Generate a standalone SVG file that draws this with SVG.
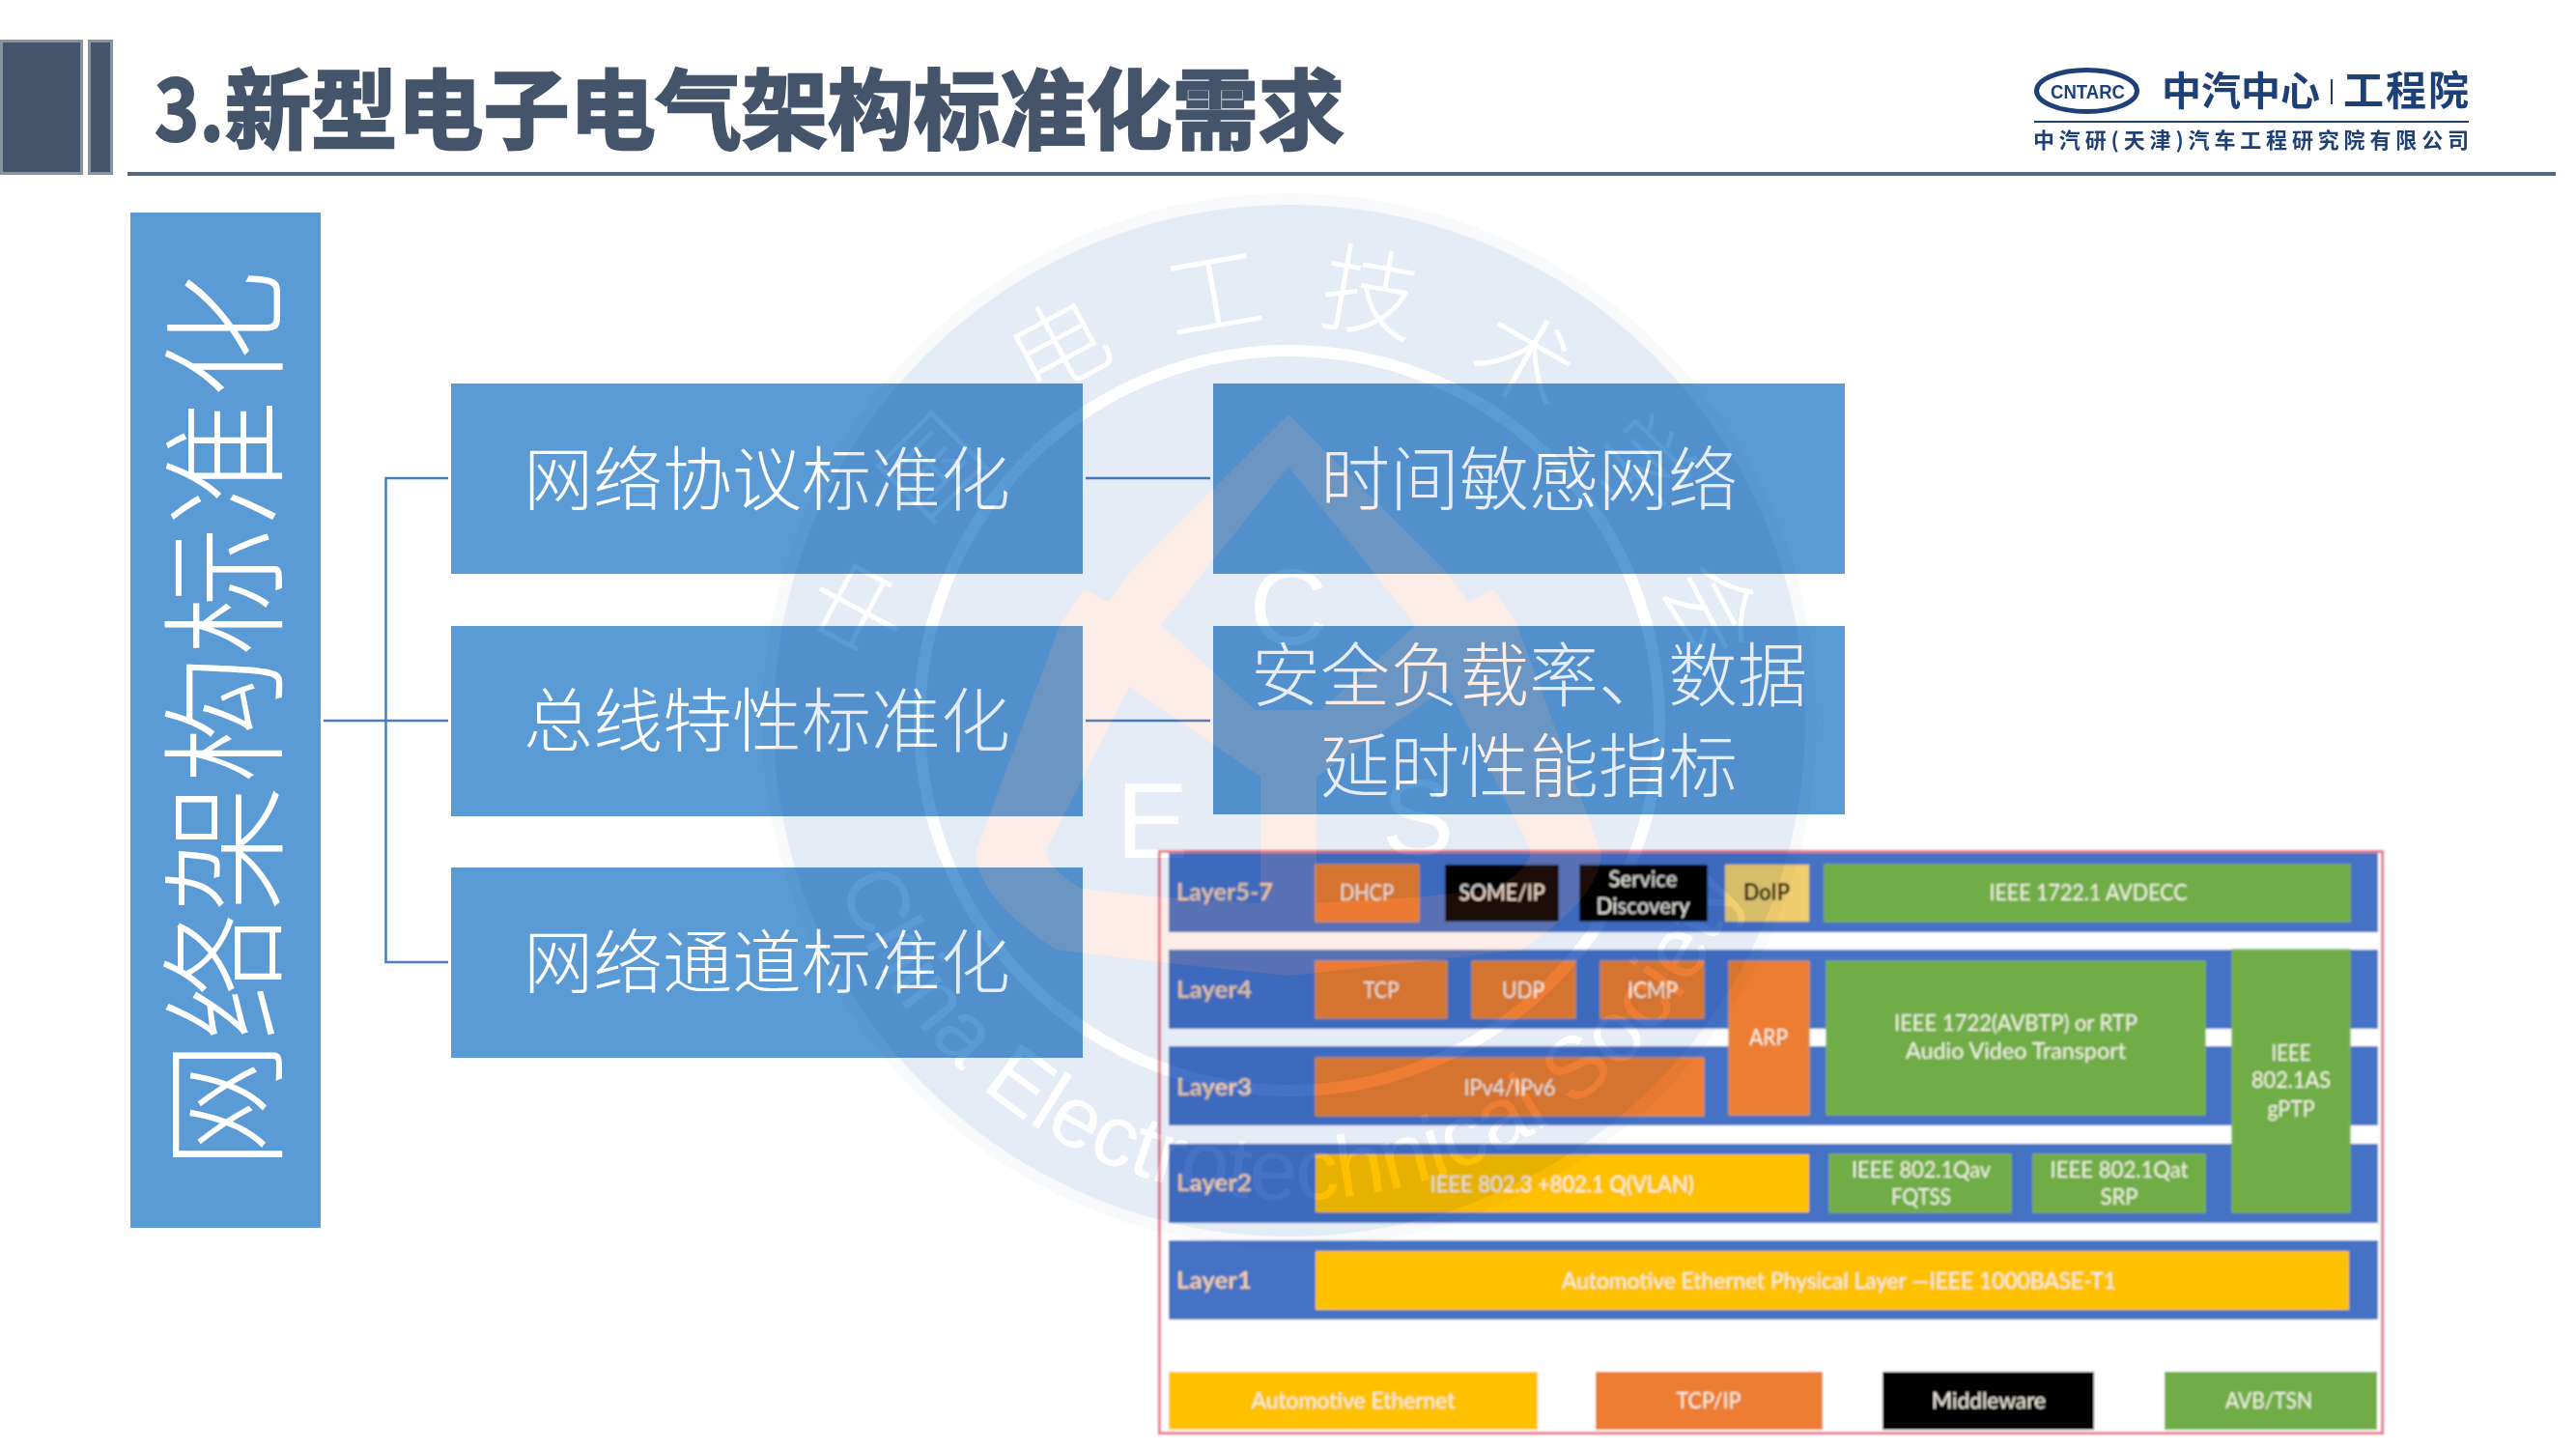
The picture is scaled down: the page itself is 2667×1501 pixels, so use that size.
<svg xmlns="http://www.w3.org/2000/svg" width="2667" height="1501" viewBox="0 0 2667 1501">
<style>
text{font-family:"Noto Sans CJK SC","Noto Sans",sans-serif}
.box{fill:#5B9BD5}
.bt{fill:#fff;font-size:72px;text-anchor:middle;font-weight:300}
.conn{stroke:#4A7EBB;fill:none;stroke-width:2.5}
.logo{fill:#1D4077;font-weight:700}
.d text{font-family:Lato,"Open Sans",sans-serif;font-size:24px;text-anchor:middle;fill:#F6F3E6}
.d .lay{text-anchor:start;fill:#F3CDA8;font-weight:700}
.row{fill:#4472C4}.o{fill:#ED7D31;stroke:#D6915F;stroke-width:1.5}.g{fill:#70AD47;stroke:#7FB05F;stroke-width:1.5}.y{fill:#FFC000}.k{fill:#000}
.wm{mix-blend-mode:multiply}
.wm text{fill:#fff}
.wm .cn{font-size:100px;text-anchor:middle;font-weight:300}
.wm .la{font-family:"Liberation Sans",Arial,sans-serif;font-size:112px;text-anchor:middle}
</style>
<defs>
<filter id="soft" x="-2%" y="-2%" width="104%" height="104%"><feGaussianBlur stdDeviation="0.8"/></filter>
<path id="arc" d="M839 746A496 496 0 1 0 1831 746"/>
<path id="house" fill-rule="evenodd" d="M1334 429L1172 590L1148 623L1122 610L1098 645L1010 883Q1012 930 1093 983L1193 995L1334 1010L1475 995L1575 983Q1656 930 1658 883L1570 645L1546 610L1520 623L1496 590ZM1334 483L1202 647L1300 735H1368L1466 647ZM1169 711L1083 880Q1085 900 1120 920L1193 928L1305 935V804ZM1499 711L1585 880Q1583 900 1548 920L1475 928L1363 935V804Z"/>
</defs>
<rect width="2667" height="1501" fill="#fff"/>
<g id="header">
<rect x="1.500" y="42.500" width="83" height="137" fill="#44546A" stroke="#84959F" stroke-width="3"/>
<rect x="92.500" y="42.500" width="23" height="137" fill="#44546A" stroke="#84959F" stroke-width="3"/>
<rect x="132" y="178" width="2514" height="4" fill="#546A7B"/>
<text x="160" y="146" font-size="90" font-weight="700" fill="#44546A" stroke="#44546A" stroke-width="2" textLength="72" lengthAdjust="spacingAndGlyphs">3.</text>
<text x="233" y="147" font-size="90" font-weight="700" fill="#44546A" stroke="#44546A" stroke-width="2.500" textLength="1159" lengthAdjust="spacingAndGlyphs">新型电子电气架构标准化需求</text>
</g>
<g id="logo">
<ellipse cx="2160.500" cy="94" rx="52" ry="21.500" fill="none" stroke="#1D4077" stroke-width="5"/>
<text x="2123" y="102" class="logo" style="font-family:'Liberation Sans',sans-serif" font-size="21" textLength="77" lengthAdjust="spacingAndGlyphs">CNTARC</text>
<text x="2238" y="109" class="logo" font-size="41" textLength="164" lengthAdjust="spacingAndGlyphs">中汽中心</text>
<rect x="2413" y="82" width="2" height="26" fill="#1D4077"/>
<text x="2426" y="109" class="logo" font-size="42" textLength="130" lengthAdjust="spacing">工程院</text>
<rect x="2106" y="125" width="450" height="2" fill="#1D4077"/>
<text x="2105" y="153" class="logo" font-size="22" textLength="451" lengthAdjust="spacing">中汽研(天津)汽车工程研究院有限公司</text>
</g>
<g id="connectors">
<path class="conn" d="M335 746H464"/>
<path class="conn" stroke-width="3.500" d="M464 495H399.500V996H464"/>
<path class="conn" d="M1124 495H1253M1124 746H1253"/>
</g>
<g id="root">
<rect class="box" x="135" y="220" width="197" height="1051"/>
<text transform="translate(282 745) rotate(-90)" fill="#fff" font-size="133" text-anchor="middle" font-weight="300">网络架构标准化</text>
</g>
<g id="n1"><rect class="box" x="467" y="397" width="654" height="197"/><text class="bt" x="794" y="522">网络协议标准化</text></g>
<g id="n2"><rect class="box" x="467" y="648" width="654" height="197"/><text class="bt" x="794" y="772">总线特性标准化</text></g>
<g id="n3"><rect class="box" x="467" y="898" width="654" height="197"/><text class="bt" x="794" y="1022">网络通道标准化</text></g>
<g id="n4"><rect class="box" x="1256" y="397" width="654" height="197"/><text class="bt" x="1583" y="522">时间敏感网络</text></g>
<g id="n5"><rect class="box" x="1256" y="648" width="654" height="195"/><text class="bt" x="1583" y="725">安全负载率、数据</text><text class="bt" x="1583" y="819">延时性能指标</text></g>
<g id="stack" class="d" filter="url(#soft)">
<rect x="1200.500" y="881.500" width="1266" height="602" fill="#fff" stroke="#E47F8C" stroke-width="3"/>
<rect class="row" x="1210" y="883" width="1252" height="82"/>
<rect class="row" x="1210" y="983" width="1252" height="82"/>
<rect class="row" x="1210" y="1083" width="1252" height="82"/>
<rect class="row" x="1210" y="1184" width="1252" height="82"/>
<rect class="row" x="1210" y="1284" width="1252" height="82"/>
<text class="lay" x="1218" y="932" textLength="100" lengthAdjust="spacingAndGlyphs">Layer5-7</text>
<text class="lay" x="1218" y="1033" textLength="78" lengthAdjust="spacingAndGlyphs">Layer4</text>
<text class="lay" x="1218" y="1134" textLength="78" lengthAdjust="spacingAndGlyphs">Layer3</text>
<text class="lay" x="1218" y="1233" textLength="78" lengthAdjust="spacingAndGlyphs">Layer2</text>
<text class="lay" x="1218" y="1334" textLength="78" lengthAdjust="spacingAndGlyphs">Layer1</text>
<rect class="o" x="1362" y="895" width="107" height="59"/><text x="1415" y="932" textLength="56" lengthAdjust="spacingAndGlyphs">DHCP</text>
<rect class="k" x="1496" y="895" width="118" height="59"/><text x="1555" y="932" textLength="89" lengthAdjust="spacingAndGlyphs">SOME/IP</text>
<rect class="k" x="1635" y="895" width="133" height="59"/><text x="1701" y="918" textLength="71" lengthAdjust="spacingAndGlyphs">Service</text><text x="1701" y="946" textLength="97" lengthAdjust="spacingAndGlyphs">Discovery</text>
<rect x="1786" y="895" width="87" height="59" fill="#F0CE6E"/><text x="1829" y="932" textLength="48" lengthAdjust="spacingAndGlyphs" style="fill:#1A1608;font-weight:700">DoIP</text>
<rect class="g" x="1889" y="895" width="544" height="59"/><text x="2162" y="932" textLength="205" lengthAdjust="spacingAndGlyphs">IEEE 1722.1 AVDECC</text>
<rect class="o" x="1362" y="995" width="136" height="59"/><text x="1430" y="1033" textLength="37" lengthAdjust="spacingAndGlyphs">TCP</text>
<rect class="o" x="1524" y="995" width="107" height="59"/><text x="1577" y="1033" textLength="44" lengthAdjust="spacingAndGlyphs">UDP</text>
<rect class="o" x="1657" y="995" width="107" height="59"/><text x="1711" y="1033" textLength="52" lengthAdjust="spacingAndGlyphs">ICMP</text>
<rect class="o" x="1790" y="995" width="83" height="159"/><text x="1831" y="1082" textLength="40" lengthAdjust="spacingAndGlyphs">ARP</text>
<rect class="o" x="1362" y="1095" width="402" height="60"/><text x="1563" y="1134" textLength="95" lengthAdjust="spacingAndGlyphs">IPv4/IPv6</text>
<rect class="g" x="1891" y="995" width="392" height="159"/><text x="2087" y="1067" textLength="252" lengthAdjust="spacingAndGlyphs">IEEE 1722(AVBTP) or RTP</text><text x="2087" y="1096" textLength="228" lengthAdjust="spacingAndGlyphs">Audio Video Transport</text>
<rect class="g" x="2311" y="983" width="122" height="272"/><text x="2372" y="1098" textLength="41" lengthAdjust="spacingAndGlyphs">IEEE</text><text x="2372" y="1126" textLength="82" lengthAdjust="spacingAndGlyphs">802.1AS</text><text x="2372" y="1156" textLength="49" lengthAdjust="spacingAndGlyphs">gPTP</text>
<rect class="y" x="1362" y="1195" width="511" height="60"/><text x="1617" y="1234" textLength="273" lengthAdjust="spacingAndGlyphs">IEEE 802.3 +802.1 Q(VLAN)</text>
<rect class="g" x="1894" y="1195" width="188" height="60"/><text x="1989" y="1219" textLength="144" lengthAdjust="spacingAndGlyphs">IEEE 802.1Qav</text><text x="1989" y="1247" textLength="62" lengthAdjust="spacingAndGlyphs">FQTSS</text>
<rect class="g" x="2105" y="1195" width="178" height="60"/><text x="2194" y="1219" textLength="143" lengthAdjust="spacingAndGlyphs">IEEE 802.1Qat</text><text x="2194" y="1247" textLength="39" lengthAdjust="spacingAndGlyphs">SRP</text>
<rect class="y" x="1362" y="1295" width="1070" height="61"/><text x="1904" y="1334" textLength="574" lengthAdjust="spacingAndGlyphs">Automotive Ethernet Physical Layer —IEEE 1000BASE-T1</text>
<rect class="y" x="1210" y="1420" width="382" height="60"/><text x="1401" y="1458" textLength="211" lengthAdjust="spacingAndGlyphs">Automotive Ethernet</text>
<rect x="1652" y="1420" width="235" height="60" fill="#ED7D31"/><text x="1769" y="1458" textLength="67" lengthAdjust="spacingAndGlyphs">TCP/IP</text>
<rect x="1949" y="1420" width="219" height="60" fill="#000"/><text x="2059" y="1458" textLength="118" lengthAdjust="spacingAndGlyphs">Middleware</text>
<rect x="2241" y="1420" width="220" height="60" fill="#70AD47"/><text x="2349" y="1458" textLength="90" lengthAdjust="spacingAndGlyphs">AVB/TSN</text>
</g>
<g id="watermark" class="wm">
<circle cx="1335" cy="746" r="540" fill="#E6ECF6" stroke="#F8F9FA" stroke-width="12"/>
<use href="#house" fill="#fff"/>
<circle cx="1335" cy="746" r="383" fill="none" stroke="#fff" stroke-width="12"/>
<text class="cn" transform="translate(892 632) rotate(-62)" y="35">中</text>
<text class="cn" transform="translate(966 484) rotate(-45)" y="35">国</text>
<text class="cn" transform="translate(1097 360) rotate(-28)" y="35">电</text>
<text class="cn" transform="translate(1257 305) rotate(-10)" y="35">工</text>
<text class="cn" transform="translate(1418 305) rotate(10)" y="35">技</text>
<text class="cn" transform="translate(1578 374) rotate(30)" y="35">术</text>
<text class="cn" transform="translate(1700 484) rotate(45)" y="35">学</text>
<text class="cn" transform="translate(1772 632) rotate(62)" y="35">会</text>
<text class="la" x="1334" y="667">C</text>
<text class="la" x="1193" y="888">E</text>
<text class="la" x="1468" y="885">S</text>
<text style="font-family:'Liberation Sans',Arial,sans-serif;font-size:90px" text-anchor="middle"><textPath href="#arc" startOffset="50%">China Electrotechnical Society</textPath></text>
</g>
<use id="house-tint" href="#house" fill="#E66B42" fill-opacity="0.122"/>
</svg>
